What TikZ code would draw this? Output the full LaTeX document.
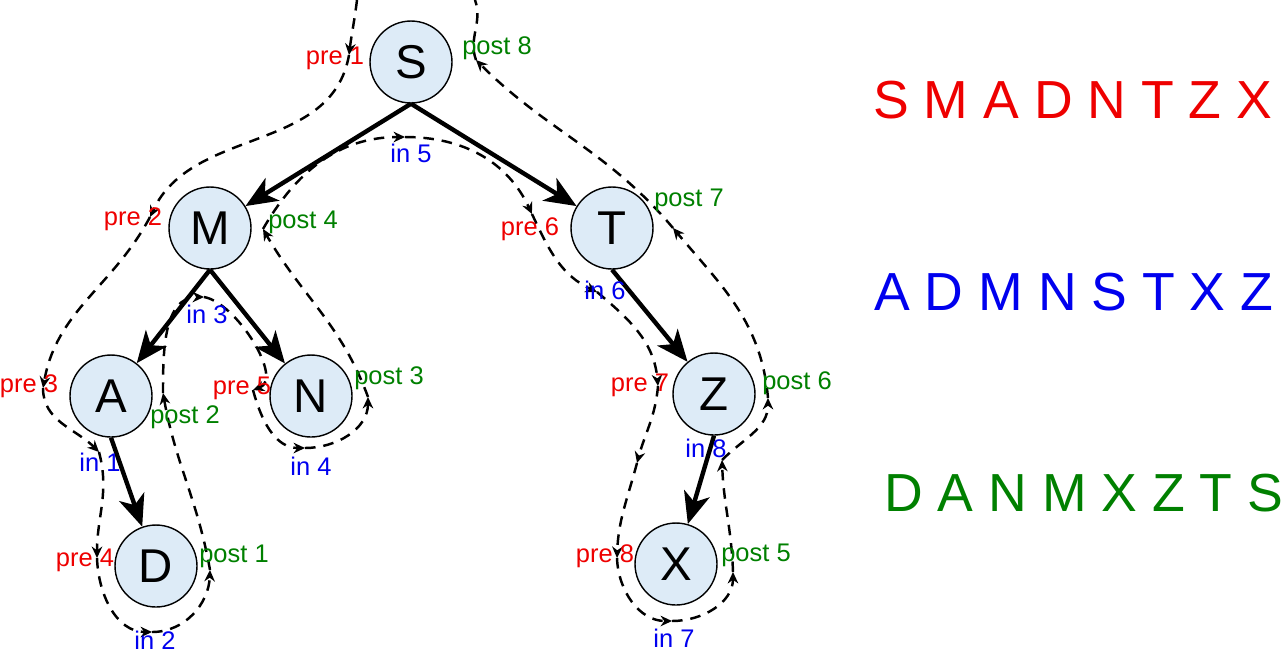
\documentclass[tikz,border=0pt]{standalone}
\usepackage{fontspec}
\setmainfont{Liberation Sans}
\usetikzlibrary{arrows.meta}

\definecolor{nodefill}{RGB}{221,235,247}
\definecolor{prered}{RGB}{238,0,0}
\definecolor{inblue}{RGB}{0,0,238}
\definecolor{postgreen}{RGB}{0,128,0}

\tikzset{
    vertex/.style={circle, draw, line width=0.8pt, fill=nodefill,
        minimum size=1.64cm, inner sep=0pt, font=\fontsize{27}{30}\selectfont},
    treeedge/.style={line width=2.5pt, -{Stealth[length=18pt, width=15pt, inset=5pt]}},
    tour/.style={line width=1.4pt, dash pattern=on 6pt off 4.5pt,
        -{Stealth[length=6.5pt, width=6pt]}},
    lbl/.style={inner sep=0pt, font=\fontsize{14.5}{16}\selectfont},
    prelbl/.style={lbl, text=prered},
    inlbl/.style={lbl, text=inblue},
    postlbl/.style={lbl, text=postgreen},
    order/.style={inner sep=0pt, font=\fontsize{30.5}{34}\selectfont},
}

\begin{document}
\begin{tikzpicture}[x=0.02cm, y=0.02cm]
    \useasboundingbox (0,0) rectangle (1281,-654);

    % tree
    \node[vertex] (S) at (411,-62)  {S};
    \node[vertex] (M) at (210,-228) {M};
    \node[vertex] (T) at (612,-228) {T};
    \node[vertex] (A) at (111,-396) {A};
    \node[vertex] (N) at (311,-396) {N};
    \node[vertex] (Z) at (714,-394) {Z};
    \node[vertex] (D) at (156,-566) {D};
    \node[vertex] (X) at (676,-564) {X};

    \draw[treeedge] (S.south) -- (M);
    \draw[treeedge] (S.south) -- (T);
    \draw[treeedge] (M.south) -- (A);
    \draw[treeedge] (M.south) -- (N);
    \draw[treeedge] (A.south) -- (D);
    \draw[treeedge] (T.south) -- (Z);
    \draw[treeedge] (Z.south) -- (X);

    % points of the walk
    \coordinate (start)  at (357,0);
    \coordinate (pre1)   at (349,-55);
    \coordinate (pre2)   at (150,-217);
    \coordinate (pre3)   at (43,-388);
    \coordinate (in1)    at (99,-452);
    \coordinate (pre4)   at (97,-558);
    \coordinate (in2)    at (152,-632);
    \coordinate (post1)  at (210,-570);
    \coordinate (post2)  at (163,-393);
    \coordinate (in3)    at (204,-297);
    \coordinate (pre5)   at (253,-390);
    \coordinate (in4)    at (305,-448);
    \coordinate (post3)  at (368,-397);
    \coordinate (post4)  at (263,-229);
    \coordinate (in5)    at (405,-137);
    \coordinate (pre6)   at (532,-214);
    \coordinate (in6)    at (597,-292);
    \coordinate (pre7)   at (658,-386);
    \coordinate (down7)  at (637,-463);
    \coordinate (pre8)   at (617,-558);
    \coordinate (in7)    at (672,-621);
    \coordinate (post5)  at (733,-572);
    \coordinate (in8)    at (722,-460);
    \coordinate (post6)  at (768,-398);
    \coordinate (post7)  at (673,-228);
    \coordinate (post8)  at (476,-60);
    \coordinate (finish) at (475,0);

    % the walk round the tree
    \path[tour]
        (start) edge [out=-97,  in=83]   (pre1)
        (pre1)  edge [out=-100, in=65]   (pre2)
        (pre2)  edge [out=-118, in=80]   (pre3)
        (pre3)  edge [out=-90,  in=135]  (in1)
        (in1)   edge [out=-75,  in=90]   (pre4)
        (pre4)  edge [out=-88,  in=180]  (in2)
        (in2)   edge [out=0,    in=-92]  (post1)
        (post1) edge [out=100,  in=-80]  (post2)
        (post2) edge [out=90,   in=180]  (in3)
        (in3)   edge [out=-10,  in=20, looseness=0.8] (pre5)
        (pre5)  edge [out=-75,  in=180]  (in4)
        (in4)   edge [out=0,    in=-90]  (post3)
        (post3) edge [out=110,  in=-60]  (post4)
        (post4) edge [out=60,   in=180]  (in5)
        (in5)   edge [out=0,    in=115]  (pre6)
        (pre6)  edge [out=-65,  in=155]  (in6)
        (in6)   edge [out=-40,  in=95]   (pre7)
        (pre7)  edge [out=-95,  in=75]   (down7)
        (down7) edge [out=-105, in=88]   (pre8)
        (pre8)  edge [out=-88,  in=180]  (in7)
        (in7)   edge [out=0,    in=-90]  (post5)
        (post5) edge [out=92,   in=-88]  (in8)
        (in8)   edge [out=45,   in=-90]  (post6)
        (post6) edge [out=95,   in=-50]  (post7)
        (post7) edge [out=130,  in=-45]  (post8)
    ;
    \draw[tour, -] (post8) to [out=110, in=-70] (finish);

    % visit labels
    \node[prelbl]  (lpre1)  at (335,-58)  {pre 1};
    \node[prelbl]  (lpre2)  at (133,-219) {pre 2};
    \node[prelbl]  (lpre3)  at (29,-386)  {pre 3};
    \node[prelbl]  (lpre4)  at (85,-560)  {pre 4};
    \node[prelbl]  (lpre5)  at (242,-388) {pre 5};
    \node[prelbl]  (lpre6)  at (530,-229) {pre 6};
    \node[prelbl]  (lpre7)  at (640,-385) {pre 7};
    \node[prelbl]  (lpre8)  at (605,-556) {pre 8};

    \node[inlbl]   (lin1)   at (100,-462) {in 1};
    \node[inlbl]   (lin2)   at (155,-640) {in 2};
    \node[inlbl]   (lin3)   at (207,-314) {in 3};
    \node[inlbl]   (lin4)   at (311,-466) {in 4};
    \node[inlbl]   (lin5)   at (411,-153) {in 5};
    \node[inlbl]   (lin6)   at (605,-290) {in 6};
    \node[inlbl]   (lin7)   at (674,-638) {in 7};
    \node[inlbl]   (lin8)   at (706,-448) {in 8};

    \node[postlbl] (lpost1) at (234,-556) {post 1};
    \node[postlbl] (lpost2) at (185,-417) {post 2};
    \node[postlbl] (lpost3) at (389,-378) {post 3};
    \node[postlbl] (lpost4) at (303,-222) {post 4};
    \node[postlbl] (lpost5) at (756,-555) {post 5};
    \node[postlbl] (lpost6) at (797,-383) {post 6};
    \node[postlbl] (lpost7) at (689,-200) {post 7};
    \node[postlbl] (lpost8) at (497,-48)  {post 8};

    % orders
    \node[order, text=prered,    anchor=west] (preorder)  at (873,-100) {S M A D N T Z X};
    \node[order, text=inblue,    anchor=west] (inorder)   at (874,-292) {A D M N S T X Z};
    \node[order, text=postgreen, anchor=west] (postorder) at (884,-493) {D A N M X Z T S};
\end{tikzpicture}
\end{document}
